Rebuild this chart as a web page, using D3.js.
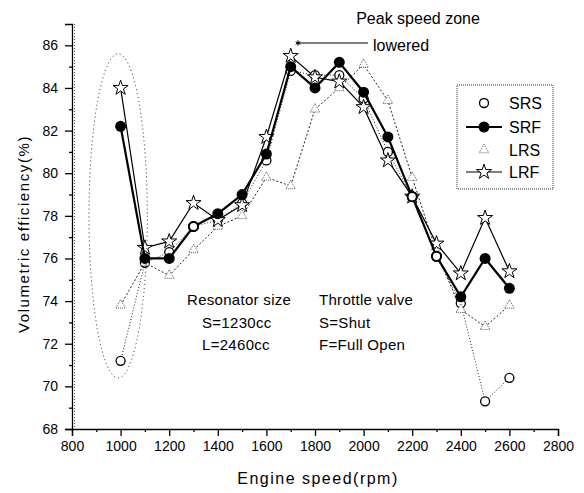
<!DOCTYPE html>
<html>
<head>
<meta charset="utf-8">
<script src="https://cdn.jsdelivr.net/npm/d3@7"></script>
<style>
  body { margin: 0; background: #fff; }
  svg { font-family: "Liberation Sans", Arial, sans-serif; }
</style>
</head>
<body>
<div id="chart"></div>
<script>
// engine speed (rpm)
var speeds = [1000, 1100, 1200, 1300, 1400, 1500, 1600, 1700, 1800, 1900, 2000, 2100, 2200, 2300, 2400, 2500, 2600];

// volumetric efficiency (%)
var srs = [71.2, 75.8, 76.3, 77.5, 77.8, 78.6, 80.6, 84.8, 84.6, 84.6, 83.5, 81.0, 78.9, 76.1, 73.9, 69.3, 70.4];
var srf = [82.2, 76.0, 76.0, 77.5, 78.1, 79.0, 80.9, 85.0, 84.0, 85.2, 83.8, 81.7, 78.9, 76.1, 74.2, 76.0, 74.6];
var lrs = [73.8, 75.8, 75.2, 76.4, 77.5, 78.0, 79.8, 79.4, 83.0, 84.0, 85.1, 83.4, 79.8, 76.3, 73.6, 72.8, 73.8];
var lrf = [84.0, 76.5, 76.8, 78.6, 77.8, 78.5, 81.7, 85.5, 84.5, 84.3, 83.1, 80.6, 78.9, 76.7, 75.3, 77.9, 75.4];

var seriesNames = ["SRS", "SRF", "LRS", "LRF"];
var xTicks = [800, 1000, 1200, 1400, 1600, 1800, 2000, 2200, 2400, 2600, 2800];
var yTicks = [68, 70, 72, 74, 76, 78, 80, 82, 84, 86];

// dotted ellipse drawn around the 1000 rpm points
var ringCenter = [990, 78.0], ringRadius = [120, 7.6];

var width = 584, height = 493;

var svg = d3.select("#chart").append("svg")
    .attr("width", width)
    .attr("height", height);

var x = d3.scaleLinear().domain([800, 2800]).range([72, 558]);
var y = d3.scaleLinear().domain([68, 87]).range([429, 24]);

// axes
var xAxis = svg.append("g")
    .attr("transform", "translate(0," + y(68) + ")")
    .call(d3.axisBottom(x).tickValues(xTicks).tickSize(7).tickPadding(5).tickFormat(d3.format("d")));
xAxis.selectAll("text").style("font-size", "14px");

svg.append("g")
    .attr("transform", "translate(0," + y(68) + ")")
    .call(d3.axisBottom(x).tickValues(d3.range(900, 2800, 200)).tickSize(3).tickFormat(""))
    .select(".domain").remove();

var yAxis = svg.append("g")
    .attr("transform", "translate(" + x(800) + ",0)")
    .call(d3.axisLeft(y).tickValues(yTicks).tickSize(7).tickPadding(7));
yAxis.selectAll("text").style("font-size", "14px");

svg.append("g")
    .attr("transform", "translate(" + x(800) + ",0)")
    .call(d3.axisLeft(y).tickValues(d3.range(69, 87, 2)).tickSize(3).tickFormat(""))
    .select(".domain").remove();

svg.selectAll(".domain").attr("stroke-width", 1.3);
svg.selectAll(".tick line").attr("stroke-width", 1.3);

// faint dotted line next to the y axis (scan trace)
svg.append("line")
    .attr("x1", x(800) + 2.5).attr("x2", x(800) + 2.5)
    .attr("y1", y(87)).attr("y2", y(68))
    .attr("stroke", "#666").attr("stroke-dasharray", "1,2");

// axis titles
svg.append("text")
    .attr("x", 318).attr("y", 484)
    .attr("text-anchor", "middle")
    .style("font-size", "16px").style("letter-spacing", "1.5px")
    .text("Engine speed(rpm)");

svg.append("text")
    .attr("transform", "translate(29,234) rotate(-90)")
    .attr("text-anchor", "middle")
    .style("font-size", "15px").style("letter-spacing", "1.6px")
    .text("Volumetric efficiency(%)");

function rows(vals) {
  return speeds.map(function(s, i) { return {s: s, v: vals[i]}; });
}

var line = d3.line()
    .x(function(d) { return x(d.s); })
    .y(function(d) { return y(d.v); });

// lines
svg.append("path").datum(rows(srs)).attr("d", line)
    .attr("fill", "none").attr("stroke", "#222").attr("stroke-width", 1).attr("stroke-dasharray", "1,2");
svg.append("path").datum(rows(lrs)).attr("d", line)
    .attr("fill", "none").attr("stroke", "#222").attr("stroke-width", 1).attr("stroke-dasharray", "2,2");
svg.append("path").datum(rows(lrf)).attr("d", line)
    .attr("fill", "none").attr("stroke", "#000").attr("stroke-width", 1.2);

// markers
var triangle = d3.symbol().type(d3.symbolTriangle).size(40);
var star = d3.symbol().type(d3.symbolStar).size(70);

svg.selectAll(".srs").data(rows(srs)).enter().append("circle")
    .attr("class", "srs")
    .attr("cx", function(d) { return x(d.s); })
    .attr("cy", function(d) { return y(d.v); })
    .attr("r", 4.5).attr("fill", "#fff").attr("stroke", "#000").attr("stroke-width", 1.3);

svg.selectAll(".lrs").data(rows(lrs)).enter().append("path")
    .attr("class", "lrs").attr("d", triangle)
    .attr("transform", function(d) { return "translate(" + x(d.s) + "," + y(d.v) + ")"; })
    .attr("fill", "#fff").attr("stroke", "#333").attr("stroke-width", 0.8).attr("stroke-dasharray", "1,1");

svg.selectAll(".lrf").data(rows(lrf)).enter().append("path")
    .attr("class", "lrf").attr("d", star)
    .attr("transform", function(d) { return "translate(" + x(d.s) + "," + y(d.v) + ")"; })
    .attr("fill", "#fff").attr("stroke", "#000").attr("stroke-width", 1);

svg.append("path").datum(rows(srf)).attr("d", line)
    .attr("fill", "none").attr("stroke", "#000").attr("stroke-width", 2.2);

svg.selectAll(".srf").data(rows(srf)).enter().append("circle")
    .attr("class", "srf")
    .attr("cx", function(d) { return x(d.s); })
    .attr("cy", function(d) { return y(d.v); })
    .attr("r", 5.5).attr("fill", "#000");

// open circles that show over the filled ones in the figure
svg.selectAll(".srsTop").data(rows(srs).filter(function(d) { return d.s === 1300 || d.s === 2200 || d.s === 2300; }))
  .enter().append("circle")
    .attr("class", "srsTop")
    .attr("cx", function(d) { return x(d.s); })
    .attr("cy", function(d) { return y(d.v); })
    .attr("r", 4.5).attr("fill", "#fff").attr("stroke", "#000").attr("stroke-width", 1.8);

// dotted ring annotation
svg.append("ellipse")
    .attr("cx", x(ringCenter[0])).attr("cy", y(ringCenter[1]))
    .attr("rx", x(800 + ringRadius[0]) - x(800))
    .attr("ry", y(68) - y(68 + ringRadius[1]))
    .attr("fill", "none").attr("stroke", "#222").attr("stroke-dasharray", "1,3");

// peak speed annotation
svg.append("text")
    .attr("x", 418).attr("y", 24)
    .attr("text-anchor", "middle")
    .style("font-size", "16px")
    .text("Peak speed zone");
svg.append("text")
    .attr("x", 373).attr("y", 51)
    .style("font-size", "16px")
    .text("lowered");
svg.append("line")
    .attr("x1", 296).attr("x2", 368).attr("y1", 43).attr("y2", 43)
    .attr("stroke", "#000").attr("stroke-width", 1.2);
svg.append("path")
    .attr("d", d3.symbol().type(d3.symbolAsterisk || d3.symbolCross).size(20))
    .attr("transform", "translate(298,43)")
    .attr("fill", "none").attr("stroke", "#000");

// legend
var legend = svg.append("g");
legend.append("rect")
    .attr("x", 457).attr("y", 85).attr("width", 96).attr("height", 104)
    .attr("fill", "#fff").attr("stroke", "#333").attr("stroke-dasharray", "1,1");

var legendY = [103, 127, 150, 172];
seriesNames.forEach(function(name, i) {
  var g = legend.append("g").attr("transform", "translate(0," + legendY[i] + ")");
  if (name === "SRF" || name === "LRF") {
    g.append("line").attr("x1", 466).attr("x2", 502).attr("y1", 0).attr("y2", 0)
        .attr("stroke", "#000").attr("stroke-width", name === "SRF" ? 2 : 1.2);
  }
  if (name === "SRS") {
    g.append("circle").attr("cx", 484).attr("cy", 0).attr("r", 4.5)
        .attr("fill", "#fff").attr("stroke", "#000").attr("stroke-width", 1.3);
  } else if (name === "SRF") {
    g.append("circle").attr("cx", 484).attr("cy", 0).attr("r", 5.5).attr("fill", "#000");
  } else if (name === "LRS") {
    g.append("path").attr("d", triangle).attr("transform", "translate(484,0)")
        .attr("fill", "#fff").attr("stroke", "#333").attr("stroke-width", 0.8).attr("stroke-dasharray", "1,1");
  } else {
    g.append("path").attr("d", star).attr("transform", "translate(484,0)")
        .attr("fill", "#fff").attr("stroke", "#000");
  }
  g.append("text").attr("x", 509).attr("y", 5.5)
      .style("font-size", "16px").text(name);
});

// explanatory notes
var notesLeft = ["Resonator size", "S=1230cc", "L=2460cc"];
var notesRight = ["Throttle valve", "S=Shut", "F=Full Open"];
var noteY = [305, 328, 350];
notesLeft.forEach(function(t, i) {
  svg.append("text").attr("x", i === 0 ? 187 : 202).attr("y", noteY[i])
      .style("font-size", "15px").style("letter-spacing", "0.3px").text(t);
});
notesRight.forEach(function(t, i) {
  svg.append("text").attr("x", 319).attr("y", noteY[i])
      .style("font-size", "15px").style("letter-spacing", "0.3px").text(t);
});
</script>
</body>
</html>
